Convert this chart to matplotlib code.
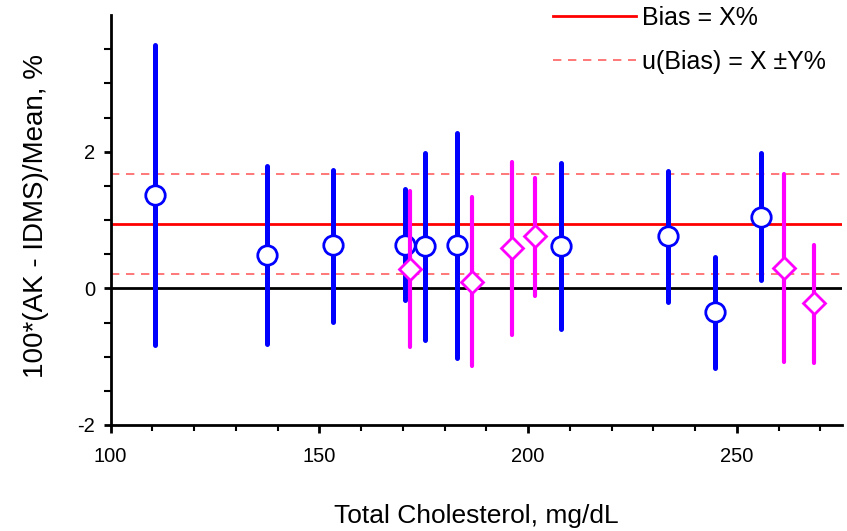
import matplotlib
matplotlib.use("Agg")
import matplotlib.pyplot as plt
from matplotlib.lines import Line2D
from matplotlib.ticker import FixedLocator, MultipleLocator

plt.rcParams['font.family'] = ['Liberation Sans', 'DejaVu Sans']
plt.rcParams['axes.unicode_minus'] = False

# Blue series (circles)
blue_x = [110.7, 137.6, 153.2, 170.5, 175.3, 183.1, 208.0, 233.5, 244.8, 255.7]
blue_y = [1.37, 0.49, 0.63, 0.64, 0.62, 0.63, 0.62, 0.77, -0.35, 1.05]
blue_hi = [3.56, 1.79, 1.73, 1.46, 1.98, 2.28, 1.84, 1.72, 0.46, 1.98]
blue_lo = [-0.83, -0.82, -0.49, -0.17, -0.75, -1.02, -0.59, -0.20, -1.16, 0.12]

# Magenta series (diamonds)
mag_x = [171.7, 186.6, 196.2, 201.7, 261.3, 268.6]
mag_y = [0.28, 0.10, 0.59, 0.76, 0.30, -0.22]
mag_hi = [1.43, 1.33, 1.85, 1.62, 1.67, 0.63]
mag_lo = [-0.86, -1.13, -0.68, -0.11, -1.08, -1.09]

bias = 0.945
u_bias = 0.73

x_major = [100, 150, 200, 250]
y_major = [-2, 0, 2]
y_minor = [-1.5, -1.0, -0.5, 0.5, 1.0, 1.5, 2.5, 3.0, 3.5]

fig = plt.figure(figsize=(8.47, 5.31), dpi=100)
ax = fig.add_axes([110.5 / 847, 106 / 531, 731.5 / 847, 410 / 531])

ax.axhline(0, color='black', lw=2.0, zorder=1)
ax.axhline(bias, color='#ff0000', lw=2.0, zorder=1)
ax.axhline(bias + u_bias, color='#ff6060', lw=1.2, ls=(0, (5, 4)), zorder=1)
ax.axhline(bias - u_bias, color='#ff6060', lw=1.2, ls=(0, (5, 4)), zorder=1)

ax.vlines(blue_x, blue_lo, blue_hi, color='#0000ff', lw=3.6, zorder=2,
          capstyle='round')
ax.plot(blue_x, blue_y, 'o', ms=14, mfc='white', mec='#0000ff', mew=2.0,
        ls='none', zorder=3)
ax.vlines(mag_x, mag_lo, mag_hi, color='#ff00ff', lw=3.0, zorder=4,
          capstyle='round')
ax.plot(mag_x, mag_y, 'D', ms=11, mfc='white', mec='#ff00ff', mew=2.0,
        ls='none', zorder=5)

ax.set_xlim(100, 275.2)
ax.set_ylim(-2, 4)

for s in ['top', 'right']:
    ax.spines[s].set_visible(False)
for s in ['left', 'bottom']:
    ax.spines[s].set_linewidth(2.0)

ax.xaxis.set_major_locator(FixedLocator(x_major))
ax.xaxis.set_minor_locator(MultipleLocator(10))
ax.yaxis.set_major_locator(FixedLocator(y_major))
ax.yaxis.set_minor_locator(FixedLocator(y_minor))

ax.tick_params(axis='x', which='major', length=6, width=2, pad=10,
               labelsize=14.5, direction='out')
ax.tick_params(axis='x', which='minor', length=4.5, width=1.5, direction='out')
ax.tick_params(axis='y', which='major', length=5, width=2, pad=6,
               labelsize=14.5, direction='out')
ax.tick_params(axis='y', which='minor', length=5, width=1.5, direction='out')

ax.set_xlabel('Total Cholesterol, mg/dL', fontsize=19)
ax.set_ylabel('100*(AK - IDMS)/Mean, %', fontsize=20)
ax.xaxis.set_label_coords((476 - 110.5) / 731.5, (425 - 504) / 410)
ax.yaxis.set_label_coords((49 - 110.5) / 731.5, (425 - 216) / 410)

handles = [Line2D([], [], color='#ff0000', lw=2.0),
           Line2D([], [], color='#ff6060', lw=1.2, ls=(0, (5, 4)))]
leg = ax.legend(handles, ['Bias = X%', 'u(Bias) = X \u00b1Y%'],
                loc='upper left', bbox_to_anchor=(553 / 847, 1 - 6 / 531),
                bbox_transform=fig.transFigure, frameon=False, fontsize=18,
                handlelength=3.3, handletextpad=0.25, labelspacing=0.78,
                borderpad=0, borderaxespad=0)

fig.savefig('out.png', dpi=100)
